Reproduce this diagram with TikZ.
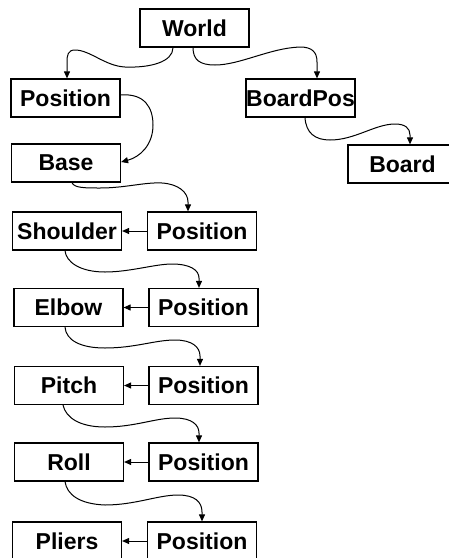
\documentclass[tikz,border=0pt]{standalone}
\usepackage{fontspec}
\setmainfont{Liberation Sans}
\usetikzlibrary{arrows.meta}
\begin{document}
\begin{tikzpicture}[x=1pt,y=-1pt,
  box/.style={draw, line width=1.2pt, minimum width=109pt, minimum height=38pt, inner sep=0pt,
    font=\fontsize{23}{27}\selectfont\bfseries},
  conn/.style={line width=1pt, -{Triangle[length=7pt,width=6pt]}}]
\clip (0,0) rectangle (449,558);
\fill[white] (0,0) rectangle (449,558);
\node[box] (W) at (194.5,28) {World};
\node[box] (P1) at (65.5,98) {Position};
\node[box] (BP) at (300.5,98) {BoardPos};
\node[box] (Base) at (66,163) {Base};
\node[box] (Board) at (402.5,164) {Board};
\node[box] (Sh) at (67,231) {Shoulder};
\node[box] (P2) at (202,231) {Position};
\node[box] (El) at (68.5,307.5) {Elbow};
\node[box] (P3) at (203.5,307.5) {Position};
\node[box] (Pi) at (69,385.5) {Pitch};
\node[box] (P4) at (203.5,385.5) {Position};
\node[box] (Ro) at (69,462) {Roll};
\node[box] (P5) at (203.5,462) {Position};
\node[box] (Pl) at (67,541) {Pliers};
\node[box] (P6) at (202,541) {Position};
% wavy connectors
\draw[conn] ([xshift=-21.5pt]W.south) .. controls (173,62) and (150,68) .. (125,67)
  .. controls (105,66) and (90,50) .. (75,50) .. controls (68,50) and (67,55) .. (67,62)
  -- ([xshift=1.5pt]P1.north);
\draw[conn] ([xshift=-1.5pt]W.south) .. controls (193,60) and (200,65) .. (215,65)
  .. controls (240,65) and (270,48) .. (300,47) .. controls (312,47) and (317,52) .. (317,62)
  -- ([xshift=16.5pt]BP.north);
\draw[conn] ([yshift=3pt]P1.east) .. controls (145,93) and (153,108) .. (153,125)
  .. controls (153,145) and (140,157) .. ([yshift=1pt]Base.east);
\draw[conn] ([xshift=4.5pt]BP.south) .. controls (306,133) and (315,140) .. (330,140)
  .. controls (355,140) and (375,124) .. (395,124) .. controls (405,124) and (410,128) .. (410,135)
  -- ([xshift=7.5pt]Board.north);
\draw[conn] ([xshift=6pt]Base.south) .. controls (74,188) and (85,188) .. (100,188)
  .. controls (125,188) and (145,182) .. (162,183) .. controls (178,184) and (188,192) .. (188,202)
  -- ([xshift=-14pt]P2.north);
\draw[conn] ([xshift=-2pt]Sh.south) .. controls (66,262) and (80,272) .. (105,272)
  .. controls (130,272) and (155,264) .. (172,264) .. controls (190,264) and (199,270) .. (199,278)
  -- ([xshift=-4.5pt]P3.north);
\draw[conn] ([xshift=-3.5pt]El.south) .. controls (66,340) and (80,348) .. (105,348)
  .. controls (135,348) and (155,340) .. (175,340) .. controls (192,340) and (200,347) .. (200,356)
  -- ([xshift=-3.5pt]P4.north);
\draw[conn] ([xshift=-6pt]Pi.south) .. controls (66,418) and (80,427) .. (105,427)
  .. controls (135,427) and (155,418) .. (175,418) .. controls (192,418) and (199,425) .. (199,433)
  -- ([xshift=-4.5pt]P5.north);
\draw[conn] ([xshift=-4pt]Ro.south) .. controls (67,495) and (80,504) .. (105,505)
  .. controls (135,505) and (158,495) .. (178,495) .. controls (195,495) and (202,502) .. (202,512)
  -- (P6.north);
% horizontal arrows
\draw[conn] (P2.west) -- (Sh.east);
\draw[conn] (P3.west) -- (El.east);
\draw[conn] (P4.west) -- (Pi.east);
\draw[conn] (P5.west) -- (Ro.east);
\draw[conn] (P6.west) -- (Pl.east);
\end{tikzpicture}
\end{document}
